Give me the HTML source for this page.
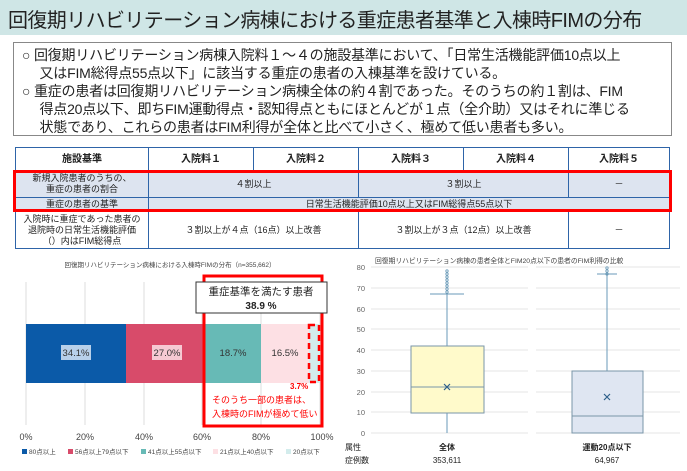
<!DOCTYPE html>
<html><head><meta charset="utf-8"><style>
*{margin:0;padding:0;box-sizing:border-box}
body{width:687px;height:471px;background:#fff;position:relative;overflow:hidden;font-family:"Liberation Sans","Noto Sans CJK JP",sans-serif;color:#222}
.a{position:absolute}
table{border-collapse:collapse;position:absolute;left:15px;top:147px;width:655px;font-size:9px}
td{border:1px solid #2e64a8;text-align:center;vertical-align:middle;line-height:11px}
</style></head><body>
<div class="a" style="left:0;top:0;width:687px;height:35px;background:#cfe6e6"></div>
<div class="a" style="left:8px;top:4px;font-size:20px;color:#222;white-space:nowrap;letter-spacing:-0.6px">回復期リハビリテーション病棟における重症患者基準と入棟時FIMの分布</div>
<div class="a" style="left:13px;top:42px;width:659px;height:94px;border:1px solid #888"></div>
<div class="a" style="left:22px;top:46px;font-size:14px;line-height:18px;white-space:nowrap;letter-spacing:-0.2px">○ 回復期リハビリテーション病棟入院料１～４の施設基準において、「日常生活機能評価10点以上<br>　 又はFIM総得点55点以下」に該当する重症の患者の入棟基準を設けている。<br>○ 重症の患者は回復期リハビリテーション病棟全体の約４割であった。そのうちの約１割は、FIM<br>　 得点20点以下、即ちFIM運動得点・認知得点ともにほとんどが１点（全介助）又はそれに準じる<br>　 状態であり、これらの患者はFIM利得が全体と比べて小さく、極めて低い患者も多い。</div>
<table>
<tr style="height:23px;font-weight:bold;font-size:10px"><td style="width:133px">施設基準</td><td style="width:105px">入院料１</td><td style="width:105px">入院料２</td><td style="width:105px">入院料３</td><td style="width:105px">入院料４</td><td>入院料５</td></tr>
<tr style="height:27px;background:#dde4f0"><td>新規入院患者のうちの、<br>重症の患者の割合</td><td colspan="2">４割以上</td><td colspan="2">３割以上</td><td>－</td></tr>
<tr style="height:14px;background:#dde4f0"><td>重症の患者の基準</td><td colspan="5">日常生活機能評価10点以上又はFIM総得点55点以下</td></tr>
<tr style="height:37px"><td>入院時に重症であった患者の<br>退院時の日常生活機能評価<br>（）内はFIM総得点</td><td colspan="2">３割以上が４点（16点）以上改善</td><td colspan="2">３割以上が３点（12点）以上改善</td><td>－</td></tr>
</table>
<div class="a" style="left:13px;top:170px;width:659px;height:42px;border:3px solid #f00"></div>

<svg class="a" style="left:0;top:250px" width="345" height="221" font-family="Liberation Sans, Noto Sans CJK JP, sans-serif">
<text x="170" y="17" font-size="6.5" text-anchor="middle" fill="#444">回復期リハビリテーション病棟における入棟時FIMの分布（n=355,662）</text>
<g stroke="#ddd" stroke-width="1"><line x1="26" y1="32" x2="26" y2="175"/><line x1="85" y1="32" x2="85" y2="175"/><line x1="144" y1="32" x2="144" y2="175"/><line x1="202" y1="32" x2="202" y2="175"/><line x1="261" y1="32" x2="261" y2="175"/><line x1="320" y1="32" x2="320" y2="175"/></g>
<rect x="26" y="74" width="100" height="59" fill="#0b5aa8"/>
<rect x="126" y="74" width="77" height="59" fill="#d84b6a"/>
<rect x="203" y="74" width="58" height="59" fill="#67bab6"/>
<rect x="261" y="74" width="48" height="59" fill="#fde0e4"/>
<rect x="309" y="74" width="11" height="59" fill="#d3ecec"/>
<rect x="61" y="95" width="30" height="15" fill="#b8d0ea"/>
<text x="76" y="106" font-size="9.5" text-anchor="middle" fill="#333">34.1%</text>
<rect x="152" y="95" width="30" height="15" fill="#f6c9d3"/>
<text x="167" y="106" font-size="9.5" text-anchor="middle" fill="#333">27.0%</text>
<text x="233" y="106" font-size="9.5" text-anchor="middle" fill="#333">18.7%</text>
<text x="285" y="106" font-size="9.5" text-anchor="middle" fill="#333">16.5%</text>
<rect x="309" y="75" width="10" height="57" fill="none" stroke="#f00" stroke-width="2.5" stroke-dasharray="6,4"/>
<rect x="204" y="26" width="118" height="150" fill="none" stroke="#f00" stroke-width="3"/>
<rect x="196" y="32" width="131" height="31" fill="#fff" stroke="#333" stroke-width="1"/>
<text x="261" y="45" font-size="10.5" text-anchor="middle" fill="#222">重症基準を満たす患者</text>
<text x="261" y="59" font-size="10" font-weight="bold" text-anchor="middle" fill="#222">38.9 %</text>
<text x="290" y="139" font-size="8" font-weight="bold" fill="#f00">3.7%</text>
<text x="212" y="153" font-size="9" fill="#f00">そのうち一部の患者は、</text>
<text x="212" y="167" font-size="9" fill="#f00">入棟時のFIMが極めて低い</text>
<g font-size="9" fill="#444" text-anchor="middle"><text x="26" y="190">0%</text><text x="85" y="190">20%</text><text x="144" y="190">40%</text><text x="202" y="190">60%</text><text x="261" y="190">80%</text><text x="322" y="190">100%</text></g>
<g font-size="6.5" fill="#444"><rect x="22" y="199" width="5" height="5" fill="#0b5aa8"/><text x="29" y="204">80点以上</text>
<rect x="68" y="199" width="5" height="5" fill="#d84b6a"/><text x="75" y="204">56点以上79点以下</text>
<rect x="141" y="199" width="5" height="5" fill="#67bab6"/><text x="148" y="204">41点以上55点以下</text>
<rect x="213" y="199" width="5" height="5" fill="#fde0e4"/><text x="220" y="204">21点以上40点以下</text>
<rect x="286" y="199" width="5" height="5" fill="#d3ecec"/><text x="293" y="204">20点以下</text></g>
</svg>

<svg class="a" style="left:345px;top:250px" width="342" height="221" font-family="Liberation Sans, Noto Sans CJK JP, sans-serif">
<text x="30" y="13" font-size="6.8" fill="#444">回復期リハビリテーション病棟の患者全体とFIM20点以下の患者のFIM利得の比較</text>
<g stroke="#e6e6e6" stroke-width="1">
<line x1="26" y1="17" x2="335" y2="17"/><line x1="26" y1="38" x2="335" y2="38"/><line x1="26" y1="59" x2="335" y2="59"/><line x1="26" y1="79" x2="335" y2="79"/><line x1="26" y1="100" x2="335" y2="100"/><line x1="26" y1="121" x2="335" y2="121"/><line x1="26" y1="142" x2="335" y2="142"/><line x1="26" y1="162" x2="335" y2="162"/><line x1="26" y1="183" x2="335" y2="183"/></g>
<rect x="183" y="15" width="8" height="170" fill="#fff"/>
<g font-size="7.5" fill="#666" text-anchor="end"><text x="20" y="20">80</text><text x="20" y="41">70</text><text x="20" y="62">60</text><text x="20" y="82">50</text><text x="20" y="103">40</text><text x="20" y="124">30</text><text x="20" y="145">20</text><text x="20" y="165">10</text><text x="20" y="186">0</text></g>
<g stroke="#6a9ab8" stroke-width="1" fill="none">
<line x1="102" y1="183" x2="102" y2="163"/><line x1="102" y1="96" x2="102" y2="44"/><line x1="85" y1="44" x2="119" y2="44"/>
<line x1="262" y1="121" x2="262" y2="24"/><line x1="252" y1="24" x2="272" y2="24"/>
</g>
<rect x="66" y="96" width="73" height="67" fill="#fffacb" stroke="#7a96a8" stroke-width="1"/>
<line x1="66" y1="137" x2="139" y2="137" stroke="#7a96a8"/>
<rect x="227" y="121" width="71" height="62" fill="#dfe6f2" stroke="#7a96a8" stroke-width="1"/>
<line x1="227" y1="166" x2="298" y2="166" stroke="#7a96a8"/>
<g fill="none" stroke="#2e5f8a" stroke-width="1.2"><path d="M99 134l6 6M105 134l-6 6"/><path d="M259 144l6 6M265 144l-6 6"/></g>
<g fill="none" stroke="#6a9ab8" stroke-width="0.8"><circle cx="102" cy="21" r="1.2"/><circle cx="102" cy="24" r="1.2"/><circle cx="102" cy="27" r="1.2"/><circle cx="102" cy="30" r="1.2"/><circle cx="102" cy="33" r="1.2"/><circle cx="102" cy="36" r="1.2"/><circle cx="102" cy="39" r="1.2"/><circle cx="102" cy="42" r="1.2"/>
<circle cx="262" cy="18" r="1.2"/><circle cx="262" cy="21" r="1.2"/><circle cx="262" cy="24" r="1.2"/></g>
<g font-size="8" fill="#222"><text x="0" y="200">属性</text><text x="0" y="213">症例数</text>
<text x="102" y="200" text-anchor="middle" font-weight="bold">全体</text><text x="102" y="213" text-anchor="middle">353,611</text>
<text x="262" y="200" text-anchor="middle" font-weight="bold">運動20点以下</text><text x="262" y="213" text-anchor="middle">64,967</text></g>
</svg>
</body></html>
